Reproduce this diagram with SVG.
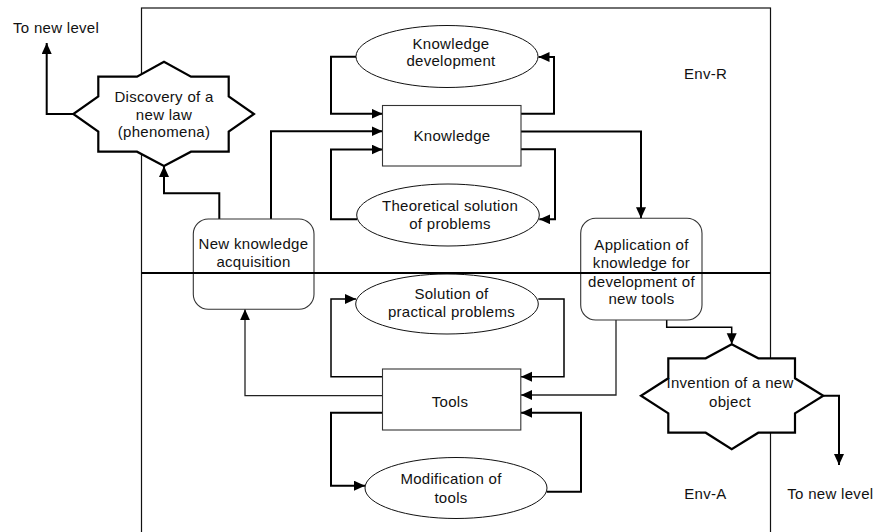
<svg xmlns="http://www.w3.org/2000/svg" width="874" height="532" viewBox="0 0 874 532">
  <defs>
    <marker id="arrow" markerUnits="userSpaceOnUse" markerWidth="12" markerHeight="11" refX="11" refY="5" orient="auto">
      <path d="M0,0 L11,5 L0,10 z" fill="#000"/>
    </marker>
    <style>
      text { font-family: "Liberation Sans", Arial, sans-serif; font-size: 15px; fill: #111; letter-spacing: 0.3px; }
      .c { text-anchor: middle; }
      .frame { fill: none; stroke: #111; stroke-width: 1.2; }
      .divider { fill: none; stroke: #000; stroke-width: 2.2; }
      .box { fill: #fff; stroke: #333; stroke-width: 1.1; }
      .rbox { fill: none; stroke: #333; stroke-width: 1.1; }
      .oval { fill: #fff; stroke: #111; stroke-width: 1; }
      .star { fill: #fff; stroke: #000; stroke-width: 2.2; stroke-linejoin: miter; }
      .wire { fill: none; stroke: #000; stroke-width: 2; marker-end: url(#arrow); }
      .mid { stroke-width: 1.5; }
      .thin { stroke: #222; stroke-width: 1.3; }
    </style>
  </defs>

  <!-- environment frame (open at the bottom) -->
  <rect class="frame" x="141.5" y="8" width="629" height="560"/>

  <!-- connectors -->
  <g id="connectors">
    <path class="wire" d="M356,56.7 H331 V113.7 H382.5"/>
    <path class="wire" d="M271,219 V131.3 H382.5"/>
    <path class="wire" d="M357,219.3 H331 V149.5 H382.5"/>
    <path class="wire" d="M521,113.7 H554 V57 H538.5"/>
    <path class="wire" d="M521,131.5 H641 V218.3"/>
    <path class="wire" d="M521,149.3 H555 V219.3 H539.3"/>
    <path class="wire" d="M219.3,219 V193.3 H164 V166"/>
    <path class="wire" d="M73.3,114 H46.7 V43"/>
    <path class="wire thin" d="M382.5,395.7 H245 V309.3"/>
    <path class="wire mid" d="M382.5,376.7 H331 V299 H356"/>
    <path class="wire mid" d="M538.3,299 H564 V376.7 H521"/>
    <path class="wire thin" d="M616,320 V395 H521"/>
    <path class="wire" d="M382.5,412.7 H331 V485.7 H365"/>
    <path class="wire" d="M546.7,491.7 H581 V412.7 H521"/>
    <path class="wire mid" d="M666.7,320 V327.3 H731.7 V344.3"/>
    <path class="wire" d="M823.3,395.7 H839 V465"/>
  </g>

  <!-- Env-R nodes -->
  <g id="knowledge-development">
    <ellipse class="oval" cx="447" cy="56.5" rx="91" ry="31"/>
    <text class="c" x="451" y="49.3">Knowledge</text>
    <text class="c" x="451" y="65.7">development</text>
  </g>

  <g id="knowledge">
    <rect class="box" x="382.5" y="105.5" width="138.5" height="60.5"/>
    <text class="c" x="452" y="141">Knowledge</text>
  </g>

  <g id="theoretical-solution">
    <ellipse class="oval" cx="448" cy="215" rx="91.3" ry="31"/>
    <text class="c" x="450" y="211">Theoretical solution</text>
    <text class="c" x="450" y="228.5">of problems</text>
  </g>

  <g id="discovery">
    <path class="star" d="M98.3,76.7 H137 L164,61.7 L191,76.7 H228.7 V96.5 L254,114 L228.7,131.5 V151.7 H191 L164,166 L137,151.7 H98.3 V131.5 L73.3,114 L98.3,96.5 Z"/>
    <text class="c" x="164" y="102.3">Discovery of a</text>
    <text class="c" x="164" y="120">new law</text>
    <text class="c" x="164" y="137.3">(phenomena)</text>
  </g>

  <g id="new-knowledge-acquisition">
    <rect class="rbox" x="193.3" y="219" width="120.7" height="90.3" rx="15" ry="15"/>
    <text class="c" x="253.5" y="249.3">New knowledge</text>
    <text class="c" x="253.5" y="266.7">acquisition</text>
  </g>

  <g id="application">
    <rect class="rbox" x="580.7" y="218.3" width="121.3" height="101.7" rx="15" ry="15"/>
    <text class="c" x="641.5" y="249.8">Application of</text>
    <text class="c" x="641.5" y="268.3">knowledge for</text>
    <text class="c" x="641.5" y="286.7">development of</text>
    <text class="c" x="641.5" y="304.3">new tools</text>
  </g>

  <!-- Env-A nodes -->
  <g id="practical-solution">
    <ellipse class="oval" cx="447" cy="304" rx="91.3" ry="30"/>
    <text class="c" x="451.5" y="299.3">Solution of</text>
    <text class="c" x="451.5" y="316.7">practical problems</text>
  </g>

  <g id="tools">
    <rect class="box" x="382.5" y="369" width="138.3" height="61"/>
    <text class="c" x="450" y="407.3">Tools</text>
  </g>

  <g id="tool-modification">
    <ellipse class="oval" cx="456" cy="488" rx="91" ry="30.5"/>
    <text class="c" x="451" y="484.3">Modification of</text>
    <text class="c" x="451" y="502.7">tools</text>
  </g>

  <g id="invention">
    <path class="star" d="M668.3,358.3 H705.7 L731.7,344.3 L758.3,358.3 H795 V378.3 L823.3,395.7 L795,413.3 V432.7 H758.3 L731.7,449.3 L705.7,432.7 H668.3 V413.3 L641,395.7 L668.3,378.3 Z"/>
    <text class="c" x="730" y="388.3">Invention of a new</text>
    <text class="c" x="730" y="406.7">object</text>
  </g>

  <!-- boundary between the two environments -->
  <line class="divider" x1="141.5" y1="273" x2="770.5" y2="273"/>

  <!-- free labels -->
  <g id="labels">
    <text x="13" y="33">To new level</text>
    <text x="684" y="79">Env-R</text>
    <text x="684.3" y="499.3">Env-A</text>
    <text x="787.3" y="499.3">To new level</text>
  </g>
</svg>
